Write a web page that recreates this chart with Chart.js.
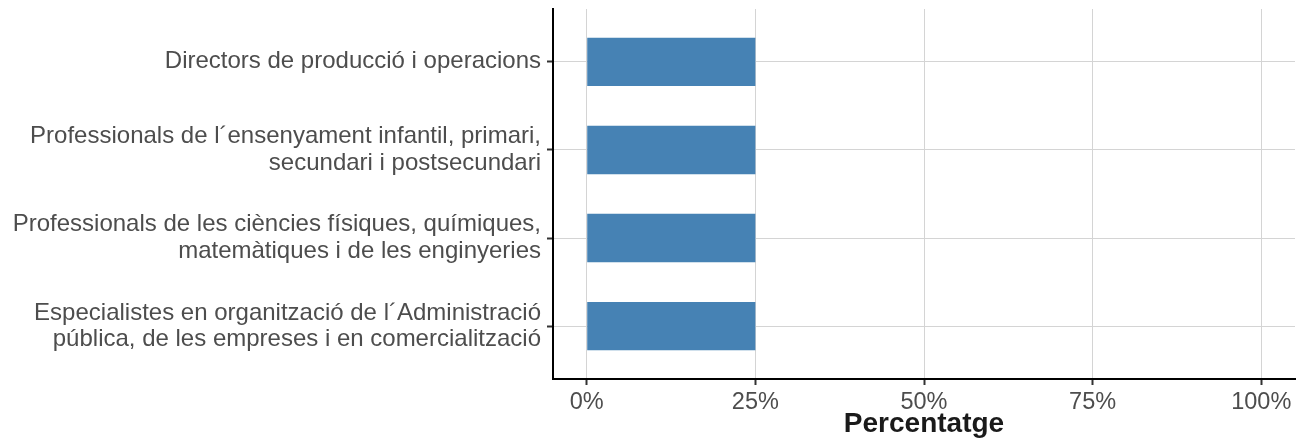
<!DOCTYPE html>
<html>
<head>
<meta charset="utf-8">
<script src="https://cdn.jsdelivr.net/npm/chart.js@4"></script>
<style>
  html, body { margin: 0; padding: 0; background: #fff; }
  #wrap { width: 1296px; height: 447px; }
</style>
</head>
<body>
<div id="wrap"><canvas id="chart"></canvas></div>
<script>
// categories (each entry is the wrapped label lines)
const categories = [
    ["Directors de producció i operacions"],
    ["Professionals de l´ensenyament infantil, primari,", "secundari i postsecundari"],
    ["Professionals de les ciències físiques, químiques,", "matemàtiques i de les enginyeries"],
    ["Especialistes en organització de l´Administració", "pública, de les empreses i en comercialització"]
];
const percentages = [25, 25, 25, 25];
const xTicks = [0, 25, 50, 75, 100];

const textGray = '#4d4d4d';
const gridGray = '#d4d4d4';
const fontFam = '"Liberation Sans", Arial, sans-serif';

// bars sit at positions 1..n on a linear y axis so the ends can be padded like ggplot
const points = percentages.map((v, i) => ({x: v, y: i + 1}));

new Chart(document.getElementById('chart'), {
    type: 'bar',
    data: {
        datasets: [{
            data: points,
            backgroundColor: '#4682b4',
            borderWidth: 0,
            barPercentage: 0.55,
            categoryPercentage: 1
        }]
    },
    options: {
        indexAxis: 'y',
        responsive: true,
        maintainAspectRatio: false,
        animation: false,
        layout: {padding: {top: 9, right: 1, left: 0, bottom: 0}},
        plugins: {legend: {display: false}, tooltip: {enabled: false}},
        scales: {
            x: {
                type: 'linear',
                min: -5,
                max: 105,
                afterBuildTicks: function (scale) {
                    scale.ticks = xTicks.map(v => ({value: v}));
                },
                afterFit: function (scale) {
                    scale.height = 68;
                    scale.paddingLeft = 0;
                    scale.paddingRight = 0;
                },
                border: {display: true, color: '#000', width: 2},
                grid: {color: gridGray, lineWidth: 1, tickColor: '#333', tickLength: 6, tickWidth: 2},
                ticks: {
                    color: textGray,
                    font: {family: fontFam, size: 23.5},
                    padding: 3,
                    maxRotation: 0,
                    callback: v => v + '%'
                },
                title: {
                    display: true,
                    text: 'Percentatge',
                    color: '#1a1a1a',
                    font: {family: fontFam, size: 28, weight: 'bold'},
                    padding: {top: 0, bottom: 6}
                }
            },
            y: {
                type: 'linear',
                min: 0.4,
                max: categories.length + 0.6,
                reverse: true,
                offset: false,
                afterBuildTicks: function (scale) {
                    scale.ticks = categories.map((c, i) => ({value: i + 1}));
                },
                afterFit: function (scale) {
                    scale.width = 553;
                    scale.paddingTop = 0;
                    scale.paddingBottom = 0;
                },
                border: {display: true, color: '#000', width: 2},
                grid: {offset: false, color: gridGray, lineWidth: 1, tickColor: '#333', tickLength: 6, tickWidth: 2},
                ticks: {
                    color: textGray,
                    font: {family: fontFam, size: 24, lineHeight: 1.1},
                    padding: 6,
                    callback: v => categories[Math.round(v) - 1]
                }
            }
        }
    }
});
</script>
</body>
</html>
